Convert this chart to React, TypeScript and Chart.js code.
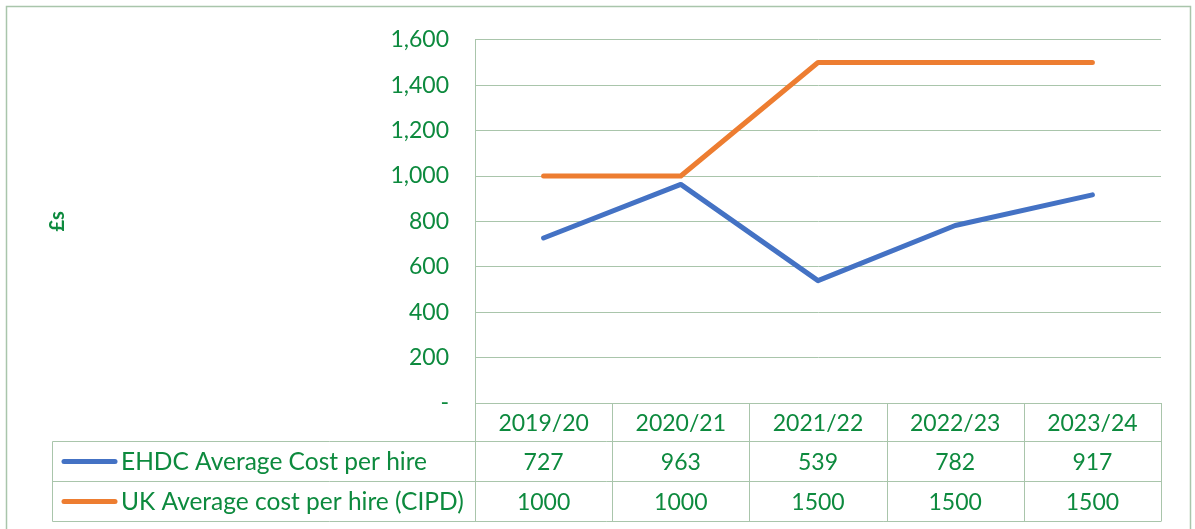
import React, { useEffect, useRef } from "react";
import { Chart, registerables } from "chart.js";

Chart.register(...registerables);

const categories = ["2019/20", "2020/21", "2021/22", "2022/23", "2023/24"];
const ehdcValues = [727, 963, 539, 782, 917];
const ukValues = [1000, 1000, 1500, 1500, 1500];
const seriesLabels = ["EHDC Average Cost per hire", "UK Average cost per hire (CIPD)"];
const seriesColors = ["#4472C4", "#ED7D31"];
const yAxisTitle = "£s";

const GREEN = "#0d8a3e";
const GRID = "#a9c5ab";
const FONT = "Lato";
const FS = 23;

const tablePlugin = {
  id: "dataTable",
  beforeDraw(chart: any) {
    const ctx = chart.ctx;
    ctx.save();
    ctx.fillStyle = "#ffffff";
    ctx.fillRect(0, 0, chart.width, chart.height);
    ctx.strokeStyle = GRID;
    ctx.lineWidth = 1.5;
    ctx.strokeRect(6.5, 6.5, 1184, 560);
    ctx.restore();
  },
  afterDraw(chart: any) {
    const ctx = chart.ctx;
    const xs = chart.scales.x;
    const area = chart.chartArea;
    const n = categories.length;
    const band = (area.right - area.left) / n;
    const rows = [area.bottom, 441.5, 481.5, 521.5];
    const legendLeft = 52.5;
    ctx.save();
    ctx.strokeStyle = GRID;
    ctx.lineWidth = 1;
    ctx.beginPath();
    ctx.moveTo(area.left, Math.round(rows[0]) + 0.5);
    ctx.lineTo(area.right, Math.round(rows[0]) + 0.5);
    for (let r = 1; r < rows.length; r++) {
      ctx.moveTo(legendLeft, rows[r]);
      ctx.lineTo(area.right, rows[r]);
    }
    for (let i = 0; i <= n; i++) {
      const x = Math.round(area.left + band * i) + 0.5;
      ctx.moveTo(x, rows[0]);
      ctx.lineTo(x, rows[3]);
    }
    ctx.moveTo(legendLeft, rows[1]);
    ctx.lineTo(legendLeft, rows[3]);
    ctx.stroke();

    ctx.fillStyle = GREEN;
    ctx.font = `${FS}px ${FONT}`;
    ctx.textAlign = "center";
    ctx.textBaseline = "middle";
    const data = [ehdcValues, ukValues];
    for (let i = 0; i < n; i++) {
      const cx = xs.getPixelForValue(i);
      ctx.fillText(categories[i], cx, (rows[0] + rows[1]) / 2 + 1);
      for (let s = 0; s < data.length; s++) {
        ctx.fillText(String(data[s][i]), cx, (rows[s + 1] + rows[s + 2]) / 2 + 1);
      }
    }
    ctx.textAlign = "left";
    ctx.font = `24.5px ${FONT}`;
    for (let s = 0; s < seriesLabels.length; s++) {
      const cy = (rows[s + 1] + rows[s + 2]) / 2;
      ctx.strokeStyle = seriesColors[s];
      ctx.lineWidth = 5;
      ctx.lineCap = "round";
      ctx.beginPath();
      ctx.moveTo(64, cy);
      ctx.lineTo(115, cy);
      ctx.stroke();
      ctx.fillText(seriesLabels[s], 121, cy + 1);
    }
    ctx.restore();
  },
};

export default function App() {
  const ref = useRef<HTMLCanvasElement | null>(null);
  useEffect(() => {
    if (!ref.current) return;
    const chart = new Chart(ref.current, {
      type: "line",
      data: {
        labels: categories,
        datasets: [
          { label: seriesLabels[0], data: ehdcValues, borderColor: seriesColors[0], backgroundColor: seriesColors[0] },
          { label: seriesLabels[1], data: ukValues, borderColor: seriesColors[1], backgroundColor: seriesColors[1] },
        ],
      },
      options: {
        animation: false,
        responsive: false,
        devicePixelRatio: 1,
        layout: { padding: { left: 0, top: 37, right: 34, bottom: 126 } },
        elements: {
          line: { borderWidth: 5, tension: 0, borderCapStyle: "round", borderJoinStyle: "round" },
          point: { radius: 0, hoverRadius: 0 },
        },
        plugins: { legend: { display: false }, tooltip: { enabled: false } },
        scales: {
          x: { display: false, offset: true },
          y: {
            min: 0,
            max: 1600,
            afterFit: (s: any) => {
              s.width = 475;
            },
            ticks: {
              stepSize: 200,
              padding: 26,
              color: GREEN,
              font: { family: FONT, size: FS },
              callback: (v: any) => (Number(v) === 0 ? "-" : Number(v).toLocaleString("en-GB")),
            },
            grid: { color: GRID, drawTicks: false, lineWidth: 1 },
            border: { display: true, color: GRID, width: 1 },
            title: {
              display: true,
              text: yAxisTitle,
              color: GREEN,
              font: { family: FONT, size: 20, weight: "bold" },
              padding: { top: 46, bottom: 0 },
            },
          },
        },
      },
      plugins: [tablePlugin],
    });
    return () => chart.destroy();
  }, []);
  return (
    <div style={{ position: "absolute", left: 0, top: 0, width: 1195, height: 529 }}>
      <canvas ref={ref} width={1195} height={529} style={{ display: "block" }} />
    </div>
  );
}
